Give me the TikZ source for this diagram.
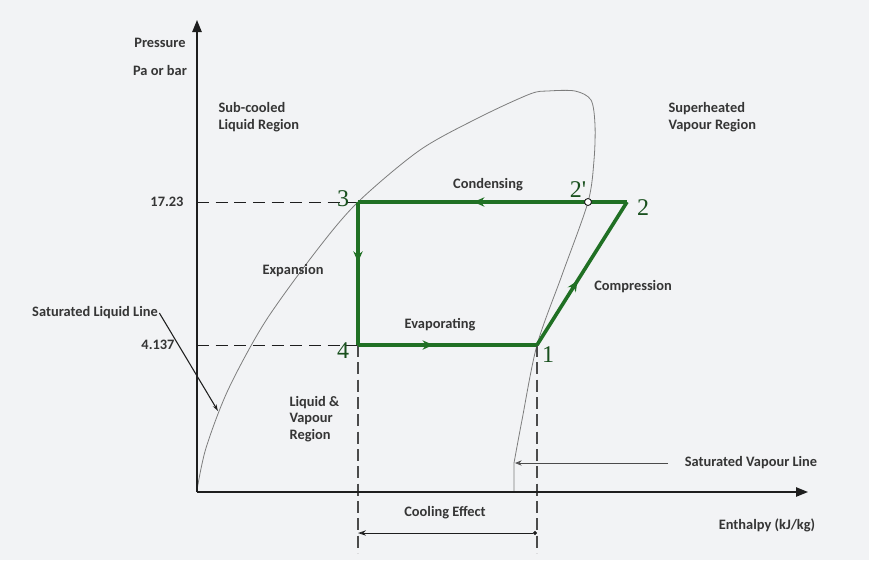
\documentclass[tikz,border=0pt]{standalone}
\usepackage{fontspec}
\setmainfont{Carlito}
\newfontfamily\numfont{Liberation Serif}
\usetikzlibrary{arrows.meta, decorations.markings, positioning, calc}
\definecolor{mygreen}{RGB}{32,112,36}
\definecolor{mynum}{RGB}{25,80,30}
\definecolor{mydark}{RGB}{30,30,30}
\definecolor{mybg}{RGB}{242,243,245}
\definecolor{mydome}{RGB}{125,125,125}
\tikzset{
  txt/.style={font=\bfseries\fontsize{10.8}{12.5}\selectfont, text=mydark!90, inner sep=1pt},
  ptnum/.style={font=\numfont\fontsize{18}{20}\selectfont, text=mynum, inner sep=0pt},
  axis/.style={-{Triangle[length=9pt,width=7pt]}, line width=1.1pt, color=mydark},
  guide/.style={dash pattern=on 9pt off 5pt, line width=0.6pt, color=mydark},
  drop/.style={dash pattern=on 9pt off 4pt, line width=1.2pt, color=mydark!80},
  dome/.style={line width=0.6pt, color=mydome},
  greenline/.style={line width=2.7pt, color=mygreen, line join=miter},
  midarrow/.style={postaction={decorate}, decoration={markings,
    mark=at position #1 with {\arrow{Stealth[length=8pt,width=7pt]}}}},
  pointer/.style={-{Stealth[length=5pt,width=3pt]}, line width=0.8pt, color=mydark},
  pointer2/.style={-{Stealth[length=5pt,width=4pt,open]}, line width=0.6pt, color=mydark!80}
}

\begin{document}
\begin{tikzpicture}[x=0.75pt, y=-0.75pt]
  \useasboundingbox (0,0) rectangle (874,572);
  \fill[mybg] (0,0) rectangle (869,560);

  % Cycle points
  \coordinate (p1) at (537,345);
  \coordinate (p2) at (627,202);
  \coordinate (p2s) at (588,202);
  \coordinate (p3) at (358,202);
  \coordinate (p4) at (358,345);
  \coordinate (origin) at (197,492);
  \coordinate (ytip) at (197,20);
  \coordinate (xtip) at (808,492);

  % Saturation dome
  \draw[dome] plot[smooth, tension=0.5] coordinates {(197,490) (206,448) (228,390)
    (265,322) (317,250) (358,202) (420,150) (480,117) (530,94) (548,91) (575,91)
    (591,100) (595,125) (594,160) (588,202) (562,275) (537,345) (522,420) (514,463)}
    -- (514,492);

  % Guide lines
  \coordinate (y3) at (197,202);
  \coordinate (y4) at (197,345);
  \coordinate (d4) at (358,553);
  \coordinate (d1) at (537,553);
  \draw[guide] (y3) -- (p3);
  \draw[guide] (y4) -- (p4);
  \draw[drop] (p4) -- (d4);
  \draw[drop] (p1) -- (d1);

  % Axes
  \draw[axis] (origin) -- (ytip);
  \draw[axis] (origin) -- (xtip);

  % Refrigeration cycle
  \draw[greenline, midarrow=0.57] (p2) -- (p3);
  \draw[greenline, midarrow=0.42] (p3) -- (p4);
  \draw[greenline, midarrow=0.42] (p4) -- (p1);
  \draw[greenline, midarrow=0.45] (p1) -- (p2);
  \draw[draw=mydark, fill=white, line width=0.7pt] (p2s) circle (3.5);

  % Point numbers
  \node[ptnum] (n1) at (548,355) {1};
  \node[ptnum] (n2) at (643,208) {2};
  \node[ptnum] (n2s) at (578,190) {2'};
  \node[ptnum] (n3) at (343,199) {3};
  \node[ptnum] (n4) at (343,351) {4};

  % Axis labels
  \node[txt] (pres) at (160,43) {Pressure};
  \node[txt] (unit) at (160,70) {Pa or bar};
  \node[txt] (enth) at (767,525) {Enthalpy (kJ/kg)};
  \node[txt] (hi) at (167,202) {17.23};
  \node[txt] (lo) at (158,345) {4.137};

  % Region labels
  \node[txt, align=left, anchor=west] (subc) at (217,117) {Sub-cooled\\Liquid Region};
  \node[txt, align=left, anchor=west] (suph) at (667,117) {Superheated\\Vapour Region};
  \node[txt, align=left, anchor=west] (wet) at (288,419) {Liquid \&\\Vapour\\Region};

  % Process labels
  \node[txt] (cond) at (488,185) {Condensing};
  \node[txt] (expn) at (293,271) {Expansion};
  \node[txt] (evap) at (440,325) {Evaporating};
  \node[txt] (comp) at (633,287) {Compression};

  % Saturation line pointers
  \node[txt] (satliq) at (95,313) {Saturated Liquid Line};
  \coordinate (liqend) at (218,411);
  \draw[pointer] (satliq.east) -- (liqend);
  \node[txt] (satvap) at (751,463) {Saturated Vapour Line};
  \coordinate (vapend) at (515,463);
  \draw[pointer2] ($(satvap.west)+(-15,0)$) -- (vapend);

  % Cooling effect
  \node[txt] (cool) at (445,513) {Cooling Effect};
  \coordinate (ca) at (358,533);
  \coordinate (cb) at (537,533);
  \draw[{Stealth[length=6pt,width=4pt,open]}-{Circle[length=3pt]}, line width=0.7pt, color=mydark] (ca) -- (cb);
\end{tikzpicture}
\end{document}
